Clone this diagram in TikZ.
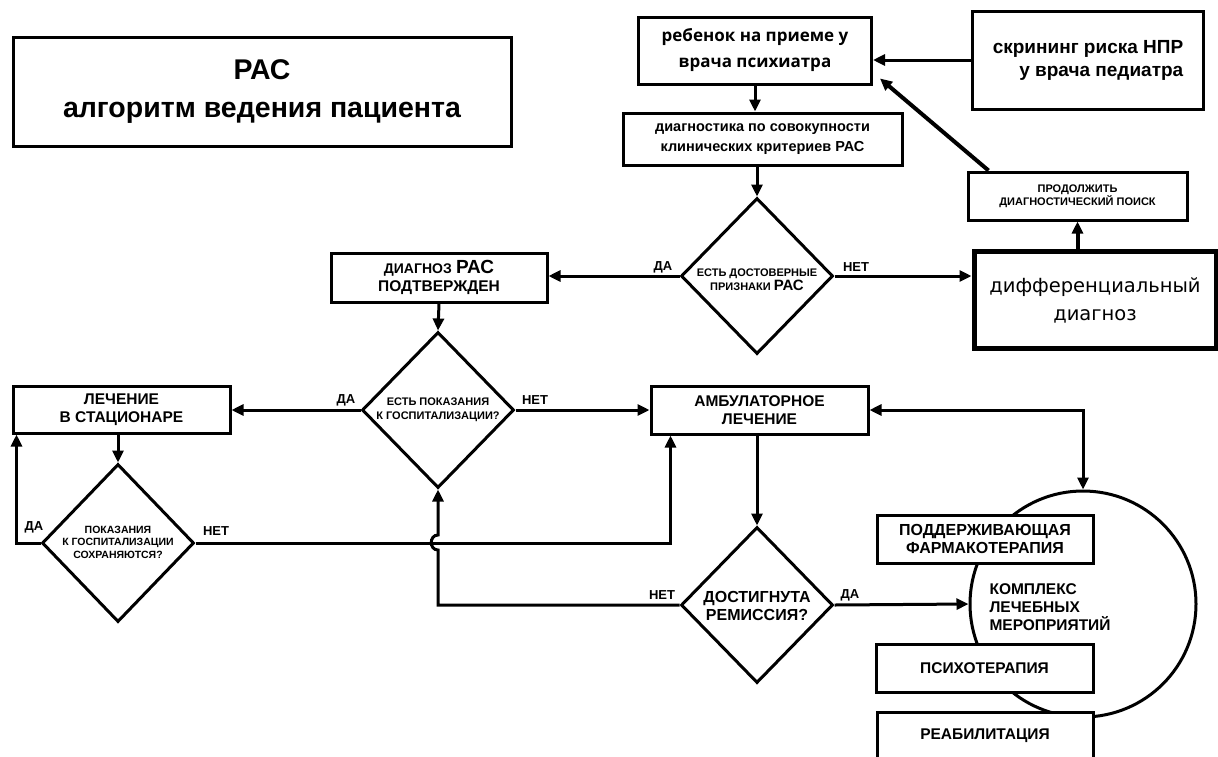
\documentclass[tikz,border=0pt]{standalone}
\usepackage{fontspec}
\setmainfont{Liberation Sans}
\newfontfamily\dejavu{DejaVu Sans}
\newfontfamily\opensans{Open Sans}
\usetikzlibrary{shapes.geometric,arrows.meta}

\begin{document}
\begin{tikzpicture}[x=1pt,y=-1pt,
        	blk/.style={draw,line width=3pt,inner sep=0pt,align=center,fill=white},
        	dia/.style={draw,diamond,line width=3pt,inner sep=0pt,minimum width=152pt,minimum height=156pt},
        	arr/.style={line width=3pt,-{Triangle[length=12pt,width=11pt]}},
        	lbl/.style={font=\bfseries\fontsize{13}{15}\selectfont},
        	caps/.style={font=\bfseries\fontsize{15.5}{18}\selectfont,align=center},
        	smallcaps/.style={font=\bfseries\fontsize{11}{14}\selectfont,align=center}]
        	\useasboundingbox (0,0) rectangle (1218,756);
        	% Boxes and decisions:
        	\node[blk, minimum width=498pt, minimum height=109pt, font=\bfseries\fontsize{28.5}{38}\selectfont] (title) at (262,91.5) {РАС\\алгоритм ведения пациента};
        	\node[blk, minimum width=233pt, minimum height=67pt, font=\opensans\bfseries\fontsize{17}{26}\selectfont] (kid) at (755,50.5) {ребенок на приеме у\\врача психиатра};
        	\node[blk, minimum width=231pt, minimum height=98pt, align=right, font=\bfseries\fontsize{19}{23}\selectfont] (screen) at (1088,60) {скрининг риска НПР\\у врача педиатра};
        	\node[blk, minimum width=279pt, minimum height=52pt, font=\bfseries\fontsize{14.5}{20}\selectfont] (crit) at (762.5,139) {диагностика по совокупности\\клинических критериев РАС};
        	\node[dia] (signs) at (757,276) {};
        	\node[smallcaps] at (757,280) {ЕСТЬ ДОСТОВЕРНЫЕ\\ПРИЗНАКИ {\fontsize{15}{14}\selectfont РАС}};
        	\node[blk, minimum width=219pt, minimum height=48pt, font=\bfseries\fontsize{11}{13}\selectfont] (cont) at (1077.5,196) {ПРОДОЛЖИТЬ\\ДИАГНОСТИЧЕСКИЙ ПОИСК};
        	\node[blk, line width=5pt, minimum width=242pt, minimum height=97pt, font=\dejavu\fontsize{19.5}{28}\selectfont] (diff) at (1095,300) {дифференциальный\\диагноз};
        	\node[blk, caps, minimum width=216pt, minimum height=49pt] (confirmed) at (439,277.5) {{\fontsize{14}{15}\selectfont ДИАГНОЗ} {\fontsize{19}{15}\selectfont РАС}\\ПОДТВЕРЖДЕН};
        	\node[dia] (hospq) at (438,410) {};
        	\node[smallcaps] at (438,410) {ЕСТЬ ПОКАЗАНИЯ\\К ГОСПИТАЛИЗАЦИИ?};
        	\node[blk, caps, minimum width=217pt, minimum height=47pt] (hosp) at (121.5,409.5) {ЛЕЧЕНИЕ\\В СТАЦИОНАРЕ};
        	\node[dia, minimum height=158pt] (keep) at (118,543) {};
        	\node[smallcaps, font=\bfseries\fontsize{10.5}{12.5}\selectfont] at (118,542) {ПОКАЗАНИЯ\\К ГОСПИТАЛИЗАЦИИ\\СОХРАНЯЮТСЯ?};
        	\node[blk, caps, minimum width=217pt, minimum height=48pt] (amb) at (759.5,410) {АМБУЛАТОРНОЕ\\ЛЕЧЕНИЕ};
        	\node[dia] (remis) at (757,605) {};
        	\node[caps, font=\bfseries\fontsize{16}{18}\selectfont] at (757,606) {ДОСТИГНУТА\\РЕМИССИЯ?};
        	% Treatment complex:
        	\node[draw, circle, line width=3pt, minimum size=226pt, inner sep=0pt] (kompl) at (1083,604) {};
        	\node[caps, anchor=west, align=left] at (986,607) {КОМПЛЕКС\\ЛЕЧЕБНЫХ\\МЕРОПРИЯТИЙ};
        	\node[blk, caps, font=\bfseries\fontsize{16}{18}\selectfont, minimum width=216pt, minimum height=48pt] (pharm) at (985,539) {ПОДДЕРЖИВАЮЩАЯ\\ФАРМАКОТЕРАПИЯ};
        	\node[blk, caps, minimum width=217pt, minimum height=48pt] (psy) at (984.5,668) {ПСИХОТЕРАПИЯ};
        	\node[blk, caps, minimum width=216pt, minimum height=48pt] (rehab) at (985,736) {РЕАБИЛИТАЦИЯ};
        	% Answers:
        	\node[lbl] (yes1) at (663,267) {ДА};
        	\node[lbl] (no1) at (856,267) {НЕТ};
        	\node[lbl] (yes2) at (346,400) {ДА};
        	\node[lbl] (no2) at (535,400) {НЕТ};
        	\node[lbl] (yes3) at (34,527) {ДА};
        	\node[lbl] (no3) at (216,531) {НЕТ};
        	\node[lbl] (no4) at (662,595) {НЕТ};
        	\node[lbl] (yes4) at (850,595) {ДА};
        	% Wires:
        	\draw[arr] (kid.south) -- (kid.south |- crit.north);
        	\draw[arr] (signs.north |- crit.south) -- (signs.north);
        	\draw[arr] (screen.west) -- (screen.west -| kid.east);
        	\draw[arr, line width=4pt] ([xshift=22pt]cont.north west) -- ([xshift=7pt,yshift=7pt]kid.south east);
        	\draw[arr, line width=4pt] (diff.north -| cont.south) -- (cont.south);
        	\draw[arr] (signs.east) -- (signs.east -| diff.west);
        	\draw[arr] (signs.west) -- (signs.west -| confirmed.east);
        	\draw[arr] (confirmed.south) -- (hospq.north);
        	\draw[arr] (hospq.west) -- (hospq.west -| hosp.east);
        	\draw[arr] (hospq.east) -- (hospq.east -| amb.west);
        	\draw[arr] (keep.north |- hosp.south) -- (keep.north);
        	\draw[arr] (keep.west) -| ([xshift=5pt]hosp.south west);
        	\draw[arr] (keep.east) -| ([xshift=21pt]amb.south west);
        	\draw[arr] (remis.north |- amb.south) -- (remis.north);
        	\draw[arr] (remis.west) -- (hospq.south |- remis.west) -- (438,550) .. controls (429,550) and (429,535) .. (438,535) -- (hospq.south);
        	\draw[arr] (remis.east) -- (kompl.west);
        	\draw[line width=3pt, {Triangle[length=12pt,width=11pt]}-{Triangle[length=12pt,width=11pt]}] (amb.east) -| (kompl.north);
        \end{tikzpicture}
\end{document}
